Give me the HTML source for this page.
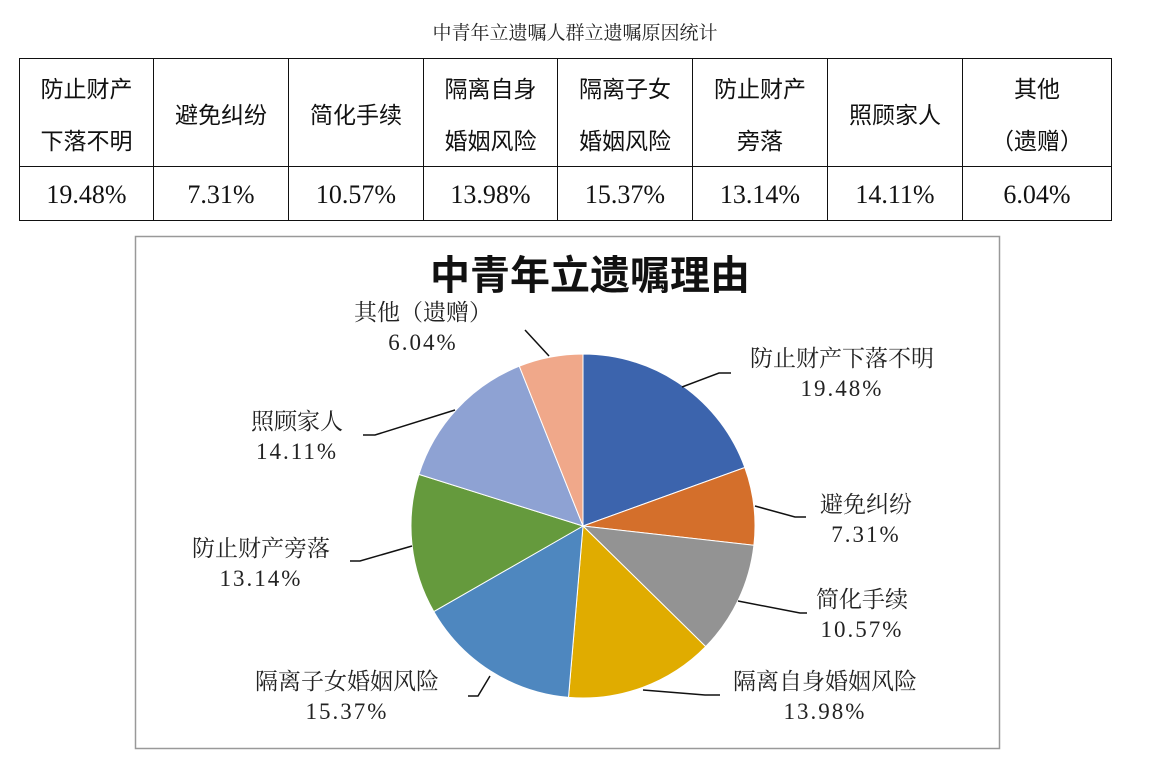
<!DOCTYPE html>
<html><head><meta charset="utf-8"><style>
body{margin:0;width:1150px;height:767px;background:#fff;position:relative;overflow:hidden;font-family:"Liberation Serif","Noto Serif CJK SC",serif;}
.t{position:absolute;left:0;width:1150px;top:18px;text-align:center;font-size:19px;color:#222;}
table{position:absolute;left:19px;top:58px;border-collapse:collapse;}
td{border:1.5px solid #111;text-align:center;font-size:23px;color:#111;padding:0;}
tr.h td{height:107px;line-height:52px;font-family:"Noto Sans CJK SC",sans-serif;font-size:23px;}
tr.v td{height:54px;font-family:"Liberation Serif",serif;font-size:26px;padding-top:2px;box-sizing:border-box;}
svg{position:absolute;left:0;top:0}
</style></head><body>
<div class="t">中青年立遗嘱人群立遗嘱原因统计</div>
<table>
<tr class="h"><td style="width:133px">防止财产<br>下落不明</td><td style="width:134px">避免纠纷</td><td style="width:134px">简化手续</td><td style="width:133px">隔离自身<br>婚姻风险</td><td style="width:134px">隔离子女<br>婚姻风险</td><td style="width:134px">防止财产<br>旁落</td><td style="width:134px">照顾家人</td><td style="width:148px">其他<br>（遗赠）</td></tr>
<tr class="v"><td>19.48%</td><td>7.31%</td><td>10.57%</td><td>13.98%</td><td>15.37%</td><td>13.14%</td><td>14.11%</td><td>6.04%</td></tr>
</table>
<svg width="1150" height="767" font-family="Liberation Serif, Noto Serif CJK SC, serif">
<rect x="135.5" y="236.5" width="864" height="512" fill="#fff" stroke="#999" stroke-width="1.5"/>
<text x="590" y="289" text-anchor="middle" font-size="40" font-weight="bold" font-family="Noto Sans CJK SC, sans-serif" fill="#111">中青年立遗嘱理由</text>
<g stroke="#fff" stroke-width="1">
<path d="M583,526 L583,354 A172,172 0 0 1 744.8,467.5Z" fill="#3c64ad"/>
<path d="M583,526 L744.8,467.5 A172,172 0 0 1 753.9,545.3Z" fill="#d46f2b"/>
<path d="M583,526 L753.9,545.3 A172,172 0 0 1 705.7,646.6Z" fill="#939393"/>
<path d="M583,526 L705.7,646.6 A172,172 0 0 1 568.5,697.4Z" fill="#e0ac00"/>
<path d="M583,526 L568.5,697.4 A172,172 0 0 1 433.8,611.6Z" fill="#4e87bf"/>
<path d="M583,526 L433.8,611.6 A172,172 0 0 1 418.9,474.4Z" fill="#659a3d"/>
<path d="M583,526 L418.9,474.4 A172,172 0 0 1 519.3,366.2Z" fill="#8ea2d3"/>
<path d="M583,526 L519.3,366.2 A172,172 0 0 1 583,354Z" fill="#f0a88a"/>
</g>
<g stroke="#111" stroke-width="1.5" fill="none">
<polyline points="682,387 719,373 731,373"/>
<polyline points="755,506 795,517 806,517"/>
<polyline points="738,601 800,613 807,613"/>
<polyline points="643,690 705,695 720,695"/>
<polyline points="490,676 478,696 468,696"/>
<polyline points="412,546 360,561 350,561"/>
<polyline points="455,410 375,435 363,435"/>
<polyline points="549,356 525,330"/>
</g>
<g font-size="23" fill="#222" text-anchor="middle">
<text x="842" y="366">防止财产下落不明</text><text x="842" y="396" letter-spacing="2">19.48%</text>
<text x="866" y="512">避免纠纷</text><text x="866" y="542" letter-spacing="2">7.31%</text>
<text x="862" y="607">简化手续</text><text x="862" y="637" letter-spacing="2">10.57%</text>
<text x="825" y="689">隔离自身婚姻风险</text><text x="825" y="719" letter-spacing="2">13.98%</text>
<text x="347" y="689">隔离子女婚姻风险</text><text x="347" y="719" letter-spacing="2">15.37%</text>
<text x="261" y="556">防止财产旁落</text><text x="261" y="586" letter-spacing="2">13.14%</text>
<text x="297" y="429">照顾家人</text><text x="297" y="459" letter-spacing="2">14.11%</text>
<text x="423" y="320">其他（遗赠）</text><text x="423" y="350" letter-spacing="2">6.04%</text>
</g>
</svg>
</body></html>
